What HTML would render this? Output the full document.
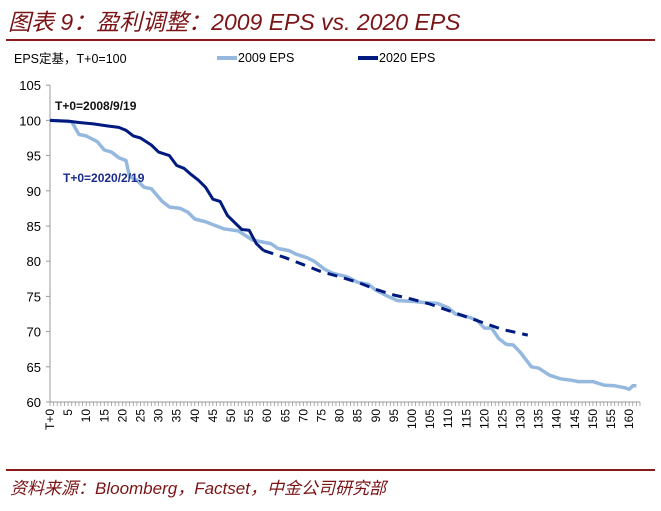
<!DOCTYPE html>
<html><head><meta charset="utf-8"><style>
body{margin:0;width:661px;height:506px;background:#fff;overflow:hidden;font-family:"Liberation Sans","Noto Sans CJK SC",sans-serif}
</style></head><body>
<svg width="661" height="506" xmlns="http://www.w3.org/2000/svg">
<text x="8" y="30" font-size="23" font-style="italic" fill="#7b1416" font-family="Liberation Sans,Noto Sans CJK SC,sans-serif">图表 9：盈利调整：2009 EPS vs. 2020 EPS</text>
<rect x="6" y="39" width="649" height="2" fill="#8b1a1a"/>
<text x="14" y="63" font-size="12.5" fill="#000">EPS定基，T+0=100</text>
<g><line x1="217" y1="58" x2="237" y2="58" stroke="#95b8df" stroke-width="4"/><text x="238" y="62" font-size="12.5">2009 EPS</text></g>
<g><line x1="358" y1="58" x2="378" y2="58" stroke="#001a80" stroke-width="4"/><text x="379" y="62" font-size="12.5">2020 EPS</text></g>
<g id="axes"></g>
<g id="series"></g>
<text x="55" y="110" font-size="12" font-weight="bold" fill="#111">T+0=2008/9/19</text>
<text x="63" y="182" font-size="12" font-weight="bold" fill="#1a2a8a">T+0=2020/2/19</text>
<rect x="6" y="469" width="649" height="2" fill="#8b1a1a"/>
<text x="10" y="494" font-size="17" font-style="italic" fill="#7b1416" font-family="Liberation Sans,Noto Sans CJK SC,sans-serif">资料来源：Bloomberg，Factset，中金公司研究部</text>
</svg>
<script>
const yTicks=[60,65,70,75,80,85,90,95,100,105];
const s2009Days=[0,6,8,10,13,15,17,19,21,22,24,26,28,31,33,36,38,40,43,45,48,52,56,58,61,63,66,68,71,73,76,78,82,85,88,90,93,96,100,104,107,110,112,116,118,120,122,124,126,128,130,133,135,138,141,144,146,150,153,156,159,160,161,162];
const s2009Vals=[100,99.8,98,97.8,97,95.8,95.5,94.7,94.3,92,91.5,90.5,90.3,88.5,87.7,87.5,87,86,85.6,85.2,84.6,84.3,83,82.8,82.5,81.8,81.5,81,80.5,80,78.8,78.3,77.8,77,76.7,75.9,75.1,74.4,74.3,74.1,74,73.4,72.5,72,71.6,70.5,70.5,69,68.2,68.1,67,65,64.8,63.8,63.3,63.1,62.9,62.9,62.4,62.3,62,61.8,62.3,62.3];
const s2020Days=[0,5,8,12,16,19,21,23,25,28,30,33,35,37,39,41,43,45,47,49,51,53,55,57,59];
const s2020Vals=[100,99.9,99.7,99.5,99.2,99,98.6,97.8,97.5,96.5,95.5,95,93.6,93.2,92.3,91.5,90.5,88.8,88.5,86.5,85.5,84.5,84.4,82.5,81.5];
const s2020ProjDays=[59,65,70,75,80,85,90,95,100,105,110,115,120,125,132];
const s2020ProjVals=[81.5,80.5,79.5,78.5,77.8,77,76,75.2,74.6,73.9,73,72.1,71.2,70.3,69.5];
const xMax=163;
const X=d=>50+d*(590/xMax*1.0);
const Y=v=>402-(v-60)*7.04;
const NS="http://www.w3.org/2000/svg";
const ax=document.getElementById('axes'), se=document.getElementById('series');
function mk(t,a,p){const e=document.createElementNS(NS,t);for(const k in a)e.setAttribute(k,a[k]);p.appendChild(e);return e;}
let yl=mk('line',{x1:50,y1:Y(105),x2:50,y2:Y(60),stroke:'#999'},ax);


let xl=mk('line',{x1:50,y1:Y(60),x2:X(xMax),y2:Y(60),stroke:'#999'},ax);


yTicks.forEach(v=>{
 mk('line',{x1:46,y1:Y(v),x2:50,y2:Y(v),stroke:'#999'},ax);
 const t=mk('text',{x:41,y:Y(v)+5,'font-size':13,'text-anchor':'end',fill:'#000'},ax);
 t.textContent=v;
 
 
});
for(let d=0;d<=xMax;d++){
 mk('line',{x1:X(d),y1:Y(60),x2:X(d),y2:Y(60)+4,stroke:'#999','stroke-width':0.8},ax);
 if(d%5===0){
  const t=mk('text',{x:0,y:0,'font-size':12,'text-anchor':'end',fill:'#000',transform:`translate(${X(d)+4},${Y(60)+7}) rotate(-90)`},ax);
  t.textContent=d===0?'T+0':d;
  
  
 }
}
function path(ds,vs){return ds.map((d,i)=>(i?'L':'M')+X(d).toFixed(1)+','+Y(vs[i]).toFixed(1)).join('');}
let p1=mk('path',{d:path(s2009Days,s2009Vals),fill:'none',stroke:'#95b8df','stroke-width':3.5,'stroke-linejoin':'round'},se);


let p2=mk('path',{d:path(s2020Days,s2020Vals),fill:'none',stroke:'#001a80','stroke-width':3,'stroke-linejoin':'round'},se);


let p3=mk('path',{d:path(s2020ProjDays,s2020ProjVals),fill:'none',stroke:'#001a80','stroke-width':3,'stroke-dasharray':'10,7'},se);


</script>
</body></html>
